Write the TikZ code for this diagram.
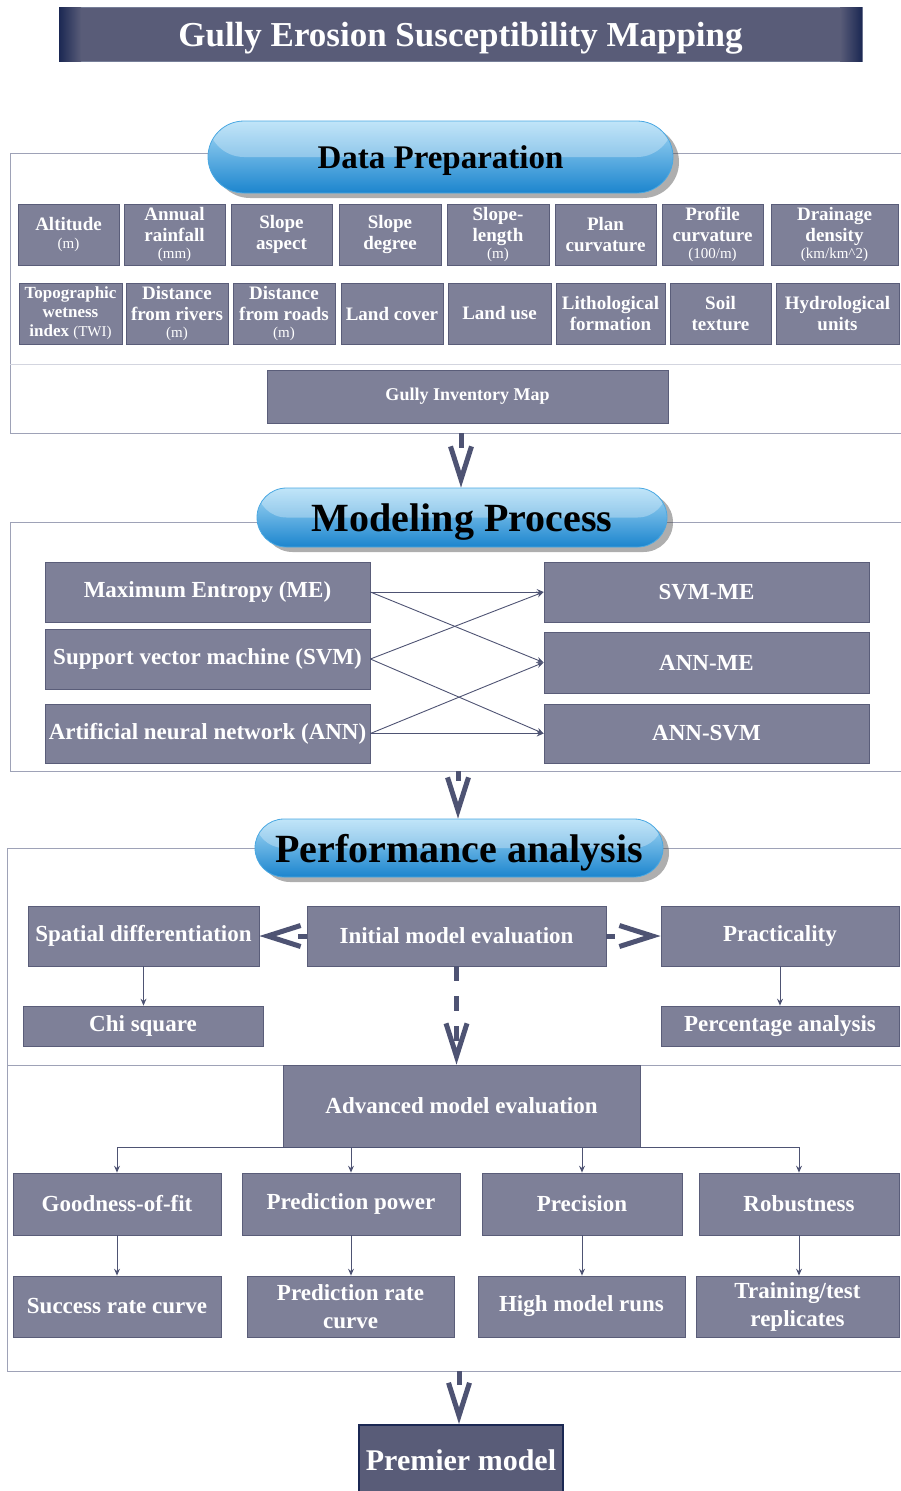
\documentclass[tikz,border=0pt]{standalone}
\usepackage{fontspec}
\setmainfont{Liberation Serif}
\usetikzlibrary{arrows.meta,shadows}
\definecolor{slate}{HTML}{595C78}
\definecolor{navyEdge}{HTML}{1B2853}
\definecolor{boxFill}{HTML}{7E8098}
\definecolor{boxEdge}{HTML}{5A5D79}
\definecolor{frameLine}{HTML}{9EA2B7}
\definecolor{capTop}{HTML}{A6DAF6}
\definecolor{capMid}{HTML}{3EA3E0}
\definecolor{capBot}{HTML}{1C85CE}
\definecolor{capLine}{HTML}{4AA8E2}
\definecolor{arrowCol}{HTML}{4E5373}
\newcommand{\fsz}[2]{\fontsize{#1}{#2}\selectfont}
\newcommand{\un}[1]{{\fsz{15}{15}\mdseries #1}}

\begin{document}
\begin{tikzpicture}[x=1pt, y=-1pt, every node/.style={font=\bfseries},
    factor/.style={draw=boxEdge, fill=boxFill, text=white, line width=0.8pt, align=center, inner sep=1pt, minimum height=61pt, font=\fsz{19}{21}\bfseries},
    procbox/.style={draw=boxEdge, fill=boxFill, text=white, line width=0.8pt, align=center, inner sep=1pt, font=\fsz{23}{28}\bfseries},
    capsule/.style={draw=capLine, line width=0.8pt, top color=capTop, middle color=capMid, bottom color=capBot, text=black, font=\fsz{40}{44}\bfseries, inner sep=0pt, text depth=0pt,
      drop shadow={shadow xshift=6pt, shadow yshift=-5pt, opacity=0.45, fill=black!70},
      path picture={\fill[white, opacity=0.3] (path picture bounding box.north west) rectangle (path picture bounding box.east);}},
    frame/.style={draw=frameLine, line width=1pt},
    bigarrow/.style={line width=5pt, draw=arrowCol, -{Straight Barb[length=33pt, width=21pt]}},
    thinarrow/.style={draw=arrowCol, line width=0.9pt, -{Stealth[length=7pt, width=6pt, inset=2.5pt]}}]
  \useasboundingbox (0,0) rectangle (901,1491);

  % title
  \node[fill=slate, draw=navyEdge!60, minimum width=803pt, minimum height=54pt, inner sep=0pt, outer sep=0pt, text depth=0pt, text=white, font=\fsz{35}{40}\bfseries] (title) at (460.5,34) {Gully Erosion Susceptibility Mapping};
  \fill[left color=navyEdge, right color=slate] (title.north west) rectangle ([xshift=22pt]title.south west);
  \fill[left color=slate, right color=navyEdge] ([xshift=-22pt]title.north east) rectangle (title.south east);

  % frames
  \draw[frame] (901,153) -- (10,153) -- (10,433) -- (901,433);
  \draw[frame, draw=frameLine!45] (10,364) -- (901,364);
  \draw[frame] (901,522) -- (10,522) -- (10,771) -- (901,771);
  \draw[frame] (901,848) -- (7,848) -- (7,1371) -- (901,1371);
  \draw[frame] (7,1065) -- (901,1065);
  \coordinate (dpbot) at (461,433);
  \coordinate (mpbot) at (458,771);
  \coordinate (pabot) at (459,1371);

  % data preparation
  \node[capsule, minimum width=465pt, minimum height=72pt, rounded corners=36pt, font=\fsz{33}{36}\bfseries] (dp) at (440.5,157) {Data Preparation};
  \node[factor, minimum width=101pt] (alt) at (68.5,234.5) {Altitude\\[-3pt]\un{(m)}};
  \node[factor, minimum width=101pt] (rain) at (174.5,234.5) {Annual\\rainfall\\[-4pt]\un{(mm)}};
  \node[factor, minimum width=101pt] (aspect) at (281.5,234.5) {Slope\\aspect};
  \node[factor, minimum width=102pt] (degree) at (390,234.5) {Slope\\degree};
  \node[factor, minimum width=102pt] (slen) at (498,234.5) {Slope-\\length\\[-4pt]\un{(m)}};
  \node[factor, minimum width=101pt] (plan) at (605.5,234.5) {Plan\\curvature};
  \node[factor, minimum width=101pt] (prof) at (712.5,234.5) {Profile\\curvature\\[-4pt]\un{(100/m)}};
  \node[factor, minimum width=127pt] (drain) at (834.5,234.5) {Drainage\\density\\[-4pt]\un{(km/km\textasciicircum 2)}};
  \node[factor, minimum width=103pt, font=\fsz{17}{19}\bfseries] (twi) at (70.5,313.5) {Topographic\\wetness\\index \un{(TWI)}};
  \node[factor, minimum width=102pt] (rivers) at (177,313.5) {Distance\\from rivers\\[-4pt]\un{(m)}};
  \node[factor, minimum width=102pt] (roads) at (284,313.5) {Distance\\from roads\\[-4pt]\un{(m)}};
  \node[factor, minimum width=102pt] (cover) at (392,313.5) {Land cover};
  \node[factor, minimum width=103pt] (use) at (499.5,313.5) {Land use};
  \node[factor, minimum width=109pt] (litho) at (610.5,313.5) {Lithological\\formation};
  \node[factor, minimum width=101pt] (soil) at (720.5,313.5) {Soil\\texture};
  \node[factor, minimum width=123pt] (hydro) at (837.5,313.5) {Hydrological\\units};
  \node[factor, minimum width=401pt, minimum height=53pt, font=\fsz{18}{20}\bfseries] (gim) at (467.5,396.5) {Gully Inventory Map};

  % modeling process
  \node[capsule, minimum width=410pt, minimum height=59pt, rounded corners=29.5pt] (mp) at (462,517.5) {Modeling Process};
  \node[procbox, minimum width=325pt, minimum height=60pt] (me) at (207.5,592) {Maximum Entropy (ME)};
  \node[procbox, minimum width=325pt, minimum height=60pt] (svm) at (207.5,659) {Support vector machine (SVM)};
  \node[procbox, minimum width=325pt, minimum height=59pt] (ann) at (207.5,733.5) {Artificial neural network (ANN)};
  \node[procbox, minimum width=325pt, minimum height=60pt] (svmme) at (706.5,592) {SVM-ME};
  \node[procbox, minimum width=325pt, minimum height=61pt] (annme) at (706.5,662.5) {ANN-ME};
  \node[procbox, minimum width=325pt, minimum height=59pt] (annsvm) at (706.5,733.5) {ANN-SVM};
  \draw[thinarrow] (me.east) -- (svmme.west);
  \draw[thinarrow] (me.east) -- (annme.west);
  \draw[thinarrow] (svm.east) -- (svmme.west);
  \draw[thinarrow] (svm.east) -- (annsvm.west);
  \draw[thinarrow] (ann.east) -- (annme.west);
  \draw[thinarrow] (ann.east) -- (annsvm.west);

  % performance analysis
  \node[capsule, minimum width=408pt, minimum height=58pt, rounded corners=29pt] (pa) at (459,848) {Performance analysis};
  \node[procbox, minimum width=231pt, minimum height=60pt] (spat) at (143.5,936) {Spatial differentiation};
  \node[procbox, minimum width=299pt, minimum height=60pt] (init) at (456.5,936) {Initial model evaluation};
  \node[procbox, minimum width=238pt, minimum height=60pt] (pract) at (780,936) {Practicality};
  \node[procbox, minimum width=240pt, minimum height=40pt] (chi) at (143,1026) {Chi square};
  \node[procbox, minimum width=238pt, minimum height=40pt] (perc) at (780,1026) {Percentage analysis};
  \node[procbox, minimum width=357pt, minimum height=82pt] (adv) at (461.5,1106) {Advanced model evaluation};
  \node[procbox, minimum width=208pt, minimum height=62pt] (gof) at (117,1204) {Goodness-of-fit};
  \node[procbox, minimum width=218pt, minimum height=62pt] (ppow) at (351,1204) {Prediction power};
  \node[procbox, minimum width=200pt, minimum height=62pt] (prec) at (582,1204) {Precision};
  \node[procbox, minimum width=200pt, minimum height=62pt] (rob) at (799,1204) {Robustness};
  \node[procbox, minimum width=208pt, minimum height=61pt] (src) at (117,1306.5) {Success rate curve};
  \node[procbox, minimum width=207pt, minimum height=61pt] (prc) at (350.5,1306.5) {Prediction rate\\curve};
  \node[procbox, minimum width=207pt, minimum height=61pt] (hmr) at (581.5,1306.5) {High model runs};
  \node[procbox, minimum width=203pt, minimum height=61pt] (ttr) at (797.5,1306.5) {Training/test\\replicates};
  \draw[bigarrow, dash pattern=on 9pt off 100pt] (init.west) -- (spat.east);
  \draw[bigarrow, dash pattern=on 9pt off 100pt] (init.east) -- (pract.west);
  \draw[bigarrow, dash pattern=on 15pt off 15pt] (init.south) -- (init.south |- adv.north);
  \draw[thinarrow] (spat.south) -- (spat.south |- chi.north);
  \draw[thinarrow] (pract.south) -- (pract.south |- perc.north);
  \draw[draw=arrowCol, line width=0.9pt] (gof.north |- adv.south) -- (rob.north |- adv.south);
  \draw[thinarrow] (gof.north |- adv.south) -- (gof.north);
  \draw[thinarrow] (ppow.north |- adv.south) -- (ppow.north);
  \draw[thinarrow] (prec.north |- adv.south) -- (prec.north);
  \draw[thinarrow] (rob.north |- adv.south) -- (rob.north);
  \draw[thinarrow] (gof.south) -- (gof.south |- src.north);
  \draw[thinarrow] (ppow.south) -- (ppow.south |- prc.north);
  \draw[thinarrow] (prec.south) -- (prec.south |- hmr.north);
  \draw[thinarrow] (rob.south) -- (rob.south |- ttr.north);

  % premier model
  \node[fill=slate, draw=navyEdge, line width=1.5pt, minimum width=204pt, minimum height=71pt, anchor=north, text=white, font=\fsz{30}{34}\bfseries] (prem) at (461,1424) {Premier model};

  % section arrows
  \draw[bigarrow, dash pattern=on 15pt off 100pt] (dpbot) -- (dpbot |- mp.north);
  \draw[bigarrow, dash pattern=on 10pt off 100pt] (mpbot) -- (mpbot |- pa.north);
  \draw[bigarrow, dash pattern=on 14pt off 100pt] (pabot) -- (pabot |- prem.north);
\end{tikzpicture}
\end{document}
